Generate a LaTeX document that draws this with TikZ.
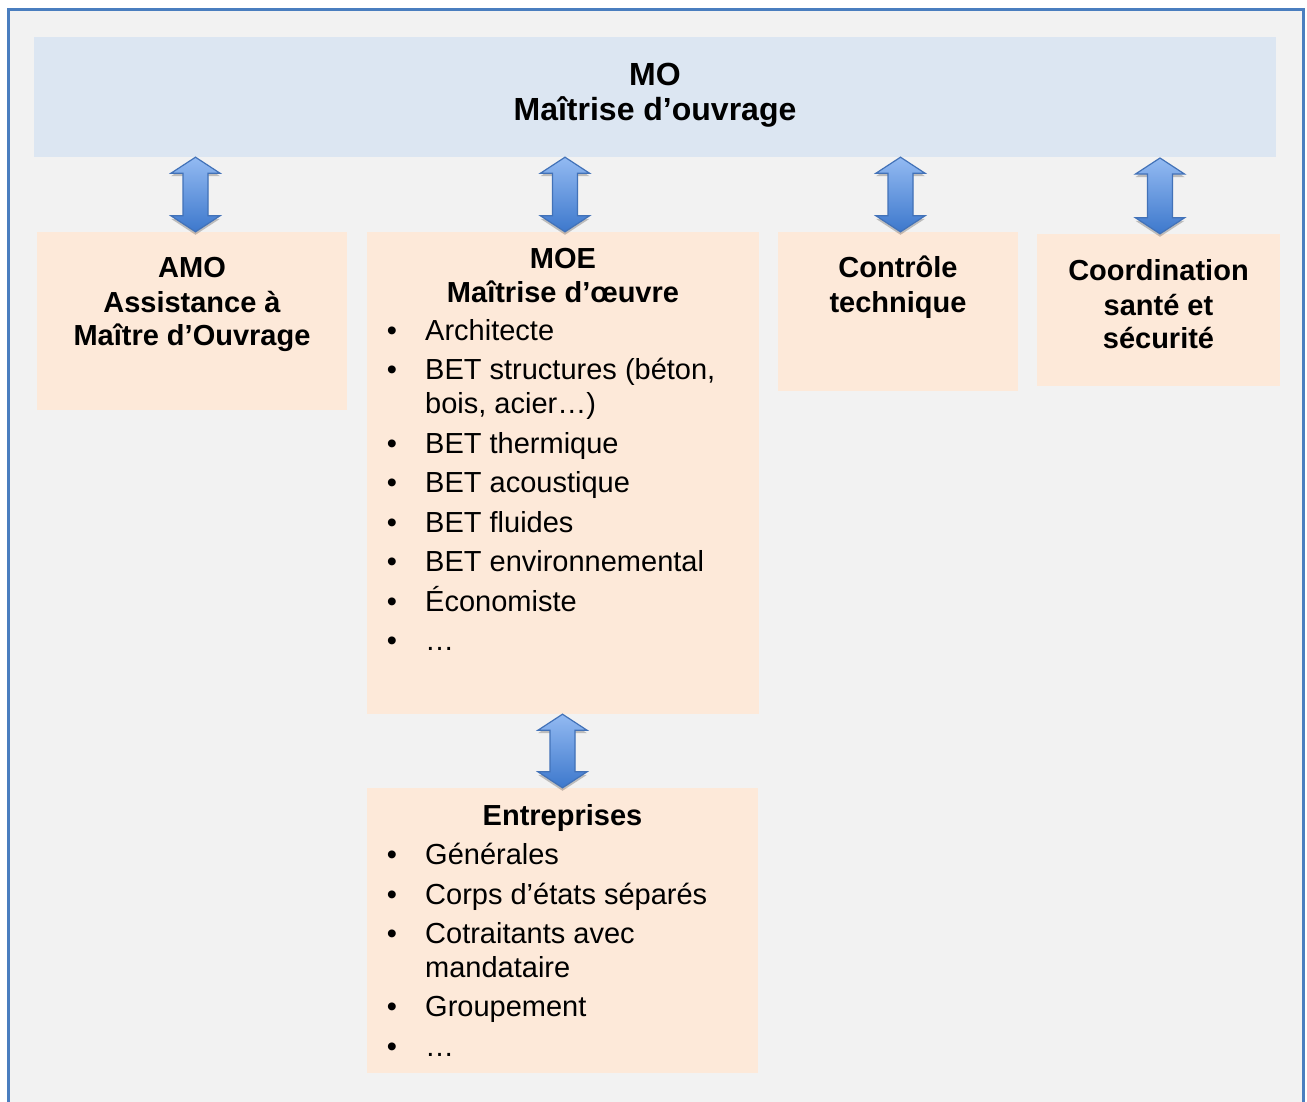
\documentclass[tikz,border=0pt]{standalone}
\usepackage{fontspec}
\setmainfont{Liberation Sans}
\usetikzlibrary{calc,shadows}
\definecolor{framefill}{HTML}{F2F2F2}
\definecolor{frameline}{HTML}{4A7EBF}
\definecolor{mofill}{HTML}{DCE6F2}
\definecolor{orfill}{HTML}{FDE9D9}
\definecolor{arrtop}{HTML}{93BAF2}
\definecolor{arrbot}{HTML}{3D78CC}
\definecolor{arrline}{HTML}{4272B8}
\tikzset{
  obox/.style={fill=orfill, draw=none, inner sep=0pt},
  bbox/.style={fill=mofill, draw=none, inner sep=0pt},
  ttl/.style={font=\bfseries\fontsize{29}{34}\selectfont, anchor=base, inner sep=0pt},
  bigttl/.style={font=\bfseries\fontsize{32}{34}\selectfont, anchor=base, inner sep=0pt},
  itm/.style={font=\fontsize{29}{34}\selectfont, anchor=base west, inner sep=0pt},
  bul/.style={font=\fontsize{29}{34}\selectfont, anchor=base, inner sep=0pt},
  barrow/.style={top color=arrtop, bottom color=arrbot, draw=arrline, line width=1.2pt, line join=miter,
    drop shadow={opacity=0.22, shadow xshift=0pt, shadow yshift=-3pt, fill=black}}
}
\newcommand\dblarrow[2]{%
  \path[barrow] let \p1=(#1), \p2=(#2) in
   (\x1,\y1) -- (\x1+24.5pt,\y1-16pt) -- (\x1+12.5pt,\y1-16pt) -- (\x1+12.5pt,\y2+16pt)
   -- (\x1+24.5pt,\y2+16pt) -- (\x1,\y2) -- (\x1-24.5pt,\y2+16pt) -- (\x1-12.5pt,\y2+16pt)
   -- (\x1-12.5pt,\y1-16pt) -- (\x1-24.5pt,\y1-16pt) -- cycle;}
\begin{document}
\begin{tikzpicture}[x=1pt,y=-1pt]
\useasboundingbox (0,0) rectangle (1307,1101);
\fill[white] (0,0) rectangle (1307,1101);
\begin{scope}
\clip (0,0) rectangle (1307,1101);
\draw[frameline, fill=framefill, line width=3pt] (8.5,9.5) rectangle (1303,1130);
\end{scope}

% boxes
\node[bbox, minimum width=1242pt, minimum height=120pt] (mo) at (655,97) {};
\node[obox, minimum width=310pt, minimum height=178pt] (amo) at (192,321) {};
\node[obox, minimum width=392pt, minimum height=482pt] (moe) at (563,473) {};
\node[obox, minimum width=240pt, minimum height=159pt] (ct) at (898,311.5) {};
\node[obox, minimum width=243pt, minimum height=152pt] (csps) at (1158.5,310) {};
\node[obox, minimum width=391pt, minimum height=285pt] (ent) at (562.5,930.5) {};

% arrow end points
\coordinate (a1t) at (195.5,0 |- mo.south);
\coordinate (a1b) at (195.5,0 |- amo.north);
\coordinate (a2t) at (565,0 |- mo.south);
\coordinate (a2b) at (565,0 |- moe.north);
\coordinate (a3t) at (900.5,0 |- mo.south);
\coordinate (a3b) at (900.5,0 |- ct.north);
\coordinate (a4t) at (1160,158);
\coordinate (a4b) at (1160,0 |- csps.north);
\coordinate (a5t) at (562.5,0 |- moe.south);
\coordinate (a5b) at (562.5,0 |- ent.north);
\dblarrow{a1t}{a1b}
\dblarrow{a2t}{a2b}
\dblarrow{a3t}{a3b}
\dblarrow{a4t}{a4b}
\dblarrow{a5t}{a5b}

% MO
\node[bigttl] (mo1) at (655,85) {MO};
\node[bigttl] (mo2) at (655,120) {Maîtrise d’ouvrage};

% AMO
\node[ttl] (amo1) at (192,277) {AMO};
\node[ttl] (amo2) at (192,312) {Assistance à};
\node[ttl] (amo3) at (192,345) {Maître d’Ouvrage};

% Controle
\node[ttl] (ct1) at (898,277) {Contrôle};
\node[ttl] (ct2) at (898,312) {technique};

% CSPS
\node[ttl] (cs1) at (1158.5,280) {Coordination};
\node[ttl] (cs2) at (1158.5,315) {santé et};
\node[ttl] (cs3) at (1158.5,348) {sécurité};

% MOE
\node[ttl] (moe1) at (563,268) {MOE};
\node[ttl] (moe2) at (563,302) {Maîtrise d’œuvre};
\node[bul] (mb1) at (392,340) {•};
\node[itm] (mi1) at (425,340) {Architecte};
\node[bul] (mb2) at (392,379.5) {•};
\node[itm] (mi2) at (425,379.5) {BET structures (béton,};
\node[itm] (mi2b) at (425,413.5) {bois, acier…)};
\node[bul] (mb3) at (392,453) {•};
\node[itm] (mi3) at (425,453) {BET thermique};
\node[bul] (mb4) at (392,492.5) {•};
\node[itm] (mi4) at (425,492.5) {BET acoustique};
\node[bul] (mb5) at (392,532) {•};
\node[itm] (mi5) at (425,532) {BET fluides};
\node[bul] (mb6) at (392,571.5) {•};
\node[itm] (mi6) at (425,571.5) {BET environnemental};
\node[bul] (mb7) at (392,611) {•};
\node[itm] (mi7) at (425,611) {Économiste};
\node[bul] (mb8) at (392,650.5) {•};
\node[itm] (mi8) at (425,650.5) {…};

% Entreprises
\node[ttl] (ent1) at (562.5,825) {Entreprises};
\node[bul] (eb1) at (392,864.5) {•};
\node[itm] (ei1) at (425,864.5) {Générales};
\node[bul] (eb2) at (392,904) {•};
\node[itm] (ei2) at (425,904) {Corps d’états séparés};
\node[bul] (eb3) at (392,943.5) {•};
\node[itm] (ei3) at (425,943.5) {Cotraitants avec};
\node[itm] (ei3b) at (425,977) {mandataire};
\node[bul] (eb4) at (392,1016.5) {•};
\node[itm] (ei4) at (425,1016.5) {Groupement};
\node[bul] (eb5) at (392,1056) {•};
\node[itm] (ei5) at (425,1056) {…};
\end{tikzpicture}
\end{document}
